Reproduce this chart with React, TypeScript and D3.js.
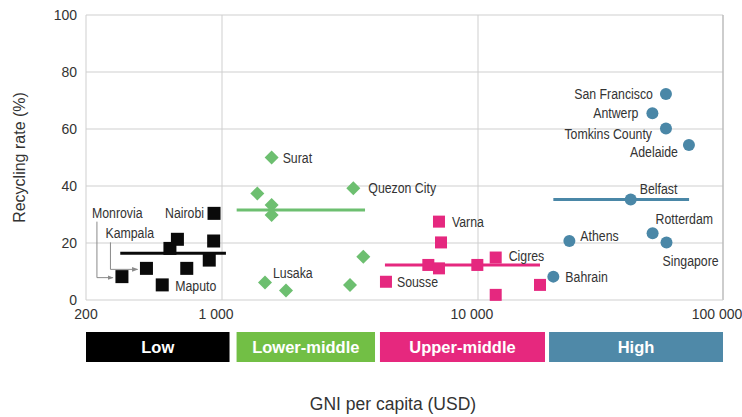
import React from "react";
import * as d3 from "d3";

// GNI per capita (USD) and recycling rate (%) by city, grouped by income level
const lowNames = ["Monrovia", "Kampala", "Maputo", "", "", "", "", "", "Nairobi"];
const lowGni = [306, 409, 493, 540, 590, 659, 860, 906, 910];
const lowRate = [8.2, 11.1, 5.3, 18.1, 21.3, 11.1, 14, 20.7, 30.4];
const lowMean = { from: 300, to: 1036, rate: 16.4 };

const lmNames = ["Surat", "Quezon City", "", "", "", "", "Lusaka", "", ""];
const lmGni = [1563, 3258, 1374, 1563, 1563, 3564, 1472, 1778, 3162];
const lmRate = [50, 39.2, 37.4, 33.3, 29.8, 15.2, 6.1, 3.3, 5.3];
const lmMean = { from: 1141, to: 3620, rate: 31.6 };

const umNames = ["Varna", "", "", "", "", "Cigres", "", "", "Sousse"];
const umGni = [7040, 7170, 6397, 7040, 9940, 11810, 11810, 17910, 4370];
const umRate = [27.5, 20.2, 12.3, 11.1, 12.3, 14.9, 1.8, 5.3, 6.4];
const umMean = { from: 4330, to: 17910, rate: 12.3 };

const hiNames = ["San Francisco", "Antwerp", "Tomkins County", "Adelaide", "Belfast", "Rotterdam", "Singapore", "Athens", "Bahrain"];
const hiGni = [58500, 51500, 58500, 72600, 42000, 51600, 58800, 23600, 20300];
const hiRate = [72.3, 65.5, 60.2, 54.4, 35.3, 23.4, 20.2, 20.7, 8.2];
const hiMean = { from: 20300, to: 72700, rate: 35.3 };

const bandNames = ["Low", "Lower-middle", "Upper-middle", "High"];
const bandFrom = [200, 1140, 4140, 19500];
const bandTo = [1070, 3960, 18770, 100000];

const xTicks = [200, 1000, 10000, 100000];
const yTicks = [0, 20, 40, 60, 80, 100];

// label placement relative to the marker: [anchor, dx, dy]
const labelPos: Record<string, [string, number, number]> = {
  Nairobi: ["end", -10, 0],
  Maputo: ["start", 13, 1],
  Monrovia: ["start", -30, -64],
  Kampala: ["start", -41, -35],
  Surat: ["start", 11, 0],
  "Quezon City": ["start", 15, 0],
  Lusaka: ["start", 8, -10],
  Varna: ["start", 13, 0],
  Cigres: ["start", 13, -2],
  Sousse: ["start", 11, 0],
  "San Francisco": ["end", -13, 0],
  Antwerp: ["end", -14, 0],
  "Tomkins County": ["end", -14, 5],
  Adelaide: ["end", -11, 7],
  Belfast: ["start", 9, -10],
  Rotterdam: ["start", 3, -14],
  Singapore: ["start", -4, 18],
  Athens: ["start", 11, -5],
  Bahrain: ["start", 12, 0],
};

const C_LOW = "#0a0a0a";
const C_LM = "#6dbf70";
const C_UM = "#e5287f";
const C_HI = "#4a87a7";
const bandColors = ["#000000", "#72bf45", "#e6287e", "#4f89a8"];

const font = "'Liberation Sans', Arial, sans-serif";

export default function App() {
  const width = 742;
  const height = 417;
  const left = 86;
  const right = 723;
  const top = 15;
  const bottom = 300;

  const x = d3
    .scaleLog()
    .domain([200, 1000, 10000, 100000])
    .range([left, 222, 478, right]);
  const y = d3.scaleLinear().domain([0, 100]).range([bottom, top]);

  const grid = "#cfcfcf";
  const diamond = d3.symbol().type(d3.symbolDiamond2).size(125);

  const groups = [
    { names: lowNames, gni: lowGni, rate: lowRate, mean: lowMean, color: C_LOW, shape: "square", size: 13 },
    { names: lmNames, gni: lmGni, rate: lmRate, mean: lmMean, color: C_LM, shape: "diamond", size: 12 },
    { names: umNames, gni: umGni, rate: umRate, mean: umMean, color: C_UM, shape: "square", size: 12 },
    { names: hiNames, gni: hiGni, rate: hiRate, mean: hiMean, color: C_HI, shape: "circle", size: 12 },
  ];

  const marker = (shape: string, size: number, color: string, cx: number, cy: number, key: number) => {
    if (shape === "square")
      return <rect key={key} x={cx - size / 2} y={cy - size / 2} width={size} height={size} fill={color} />;
    if (shape === "circle") return <circle key={key} cx={cx} cy={cy} r={size / 2} fill={color} />;
    return <path key={key} d={diamond() as string} transform={`translate(${cx},${cy})`} fill={color} />;
  };

  return (
    <svg width={width} height={height} style={{ position: "absolute", left: 0, top: 0 }}>
      <defs>
        <marker id="arr" viewBox="0 0 10 10" refX="9" refY="5" markerWidth="6" markerHeight="6" orient="auto">
          <path d="M0,1 L10,5 L0,9 z" fill="#8a8a8a" />
        </marker>
      </defs>
      <rect width={width} height={height} fill="#fff" />

      {/* grid */}
      {yTicks.filter((t) => t > 0).map((t) => (
        <line key={t} x1={left} x2={right} y1={y(t)} y2={y(t)} stroke={grid} strokeWidth={1} />
      ))}
      {[1000, 10000].map((t) => (
        <line key={t} x1={x(t)} x2={x(t)} y1={top} y2={bottom} stroke={grid} strokeWidth={1} />
      ))}
      <line x1={left} x2={left} y1={top} y2={bottom} stroke={grid} />
      <line x1={right} x2={right} y1={top} y2={bottom} stroke="#bdbdbd" strokeWidth={1.5} />
      <line x1={left} x2={right} y1={bottom} y2={bottom} stroke={grid} />

      {/* y tick labels */}
      {yTicks.map((t) => (
        <text key={t} x={77} y={y(t)} dy="0.35em" textAnchor="end" fontSize={14} fill="#333" fontFamily={font}>
          {t}
        </text>
      ))}
      {/* x tick labels */}
      {xTicks.map((t) => (
        <text key={t} x={x(t) - (t > 200 ? 6 : 0)} y={319} textAnchor="middle" fontSize={14} fill="#333" fontFamily={font}>
          {t >= 1000 ? d3.format(",")(t).replace(/,/g, " ") : t}
        </text>
      ))}

      <text
        transform={`translate(25,${(top + bottom) / 2}) rotate(-90)`}
        textAnchor="middle"
        fontSize={16}
        fill="#333"
        fontFamily={font}
      >
        Recycling rate (%)
      </text>
      <text x={393} y={410} textAnchor="middle" fontSize={17.5} fill="#333" fontFamily={font}>
        GNI per capita (USD)
      </text>

      {/* mean lines */}
      {groups.map((g, i) => (
        <line
          key={i}
          x1={x(g.mean.from)}
          x2={x(g.mean.to)}
          y1={y(g.mean.rate)}
          y2={y(g.mean.rate)}
          stroke={g.color}
          strokeWidth={3}
        />
      ))}

      {/* points */}
      {groups.map((g, gi) => (
        <g key={gi}>{g.gni.map((v, i) => marker(g.shape, g.size, g.color, x(v), y(g.rate[i]), i))}</g>
      ))}

      {/* connectors for Monrovia, Kampala */}
      {["Monrovia", "Kampala"].map((n) => {
        const i = lowNames.indexOf(n);
        const px = x(lowGni[i]);
        const py = y(lowRate[i]);
        const [, dx, dy] = labelPos[n];
        const lx = px + dx + 5;
        return (
          <polyline
            key={n}
            points={`${lx},${py + dy + 9} ${lx},${py + 1} ${px - 9},${py + 1}`}
            fill="none"
            stroke="#8a8a8a"
            strokeWidth={1}
            markerEnd="url(#arr)"
          />
        );
      })}

      {/* labels, horizontally condensed */}
      {groups.map((g, gi) =>
        g.names.map((n, i) => {
          if (!n) return null;
          const [anchor, dx, dy] = labelPos[n];
          return (
            <text
              key={`${gi}-${i}`}
              transform={`translate(${x(g.gni[i]) + dx},${y(g.rate[i]) + dy}) scale(0.85,1)`}
              dy="0.35em"
              textAnchor={anchor as any}
              fontSize={14.5}
              fill="#333"
              fontFamily={font}
            >
              {n}
            </text>
          );
        })
      )}

      {/* income bands */}
      {bandNames.map((b, i) => (
        <g key={b}>
          <rect x={x(bandFrom[i])} y={332} width={x(bandTo[i]) - x(bandFrom[i])} height={30} fill={bandColors[i]} />
          <text
            x={(x(bandFrom[i]) + x(bandTo[i])) / 2}
            y={347}
            dy="0.35em"
            textAnchor="middle"
            fontSize={16.5}
            fontWeight="bold"
            fill="#fff"
            fontFamily={font}
          >
            {b}
          </text>
        </g>
      ))}
    </svg>
  );
}
